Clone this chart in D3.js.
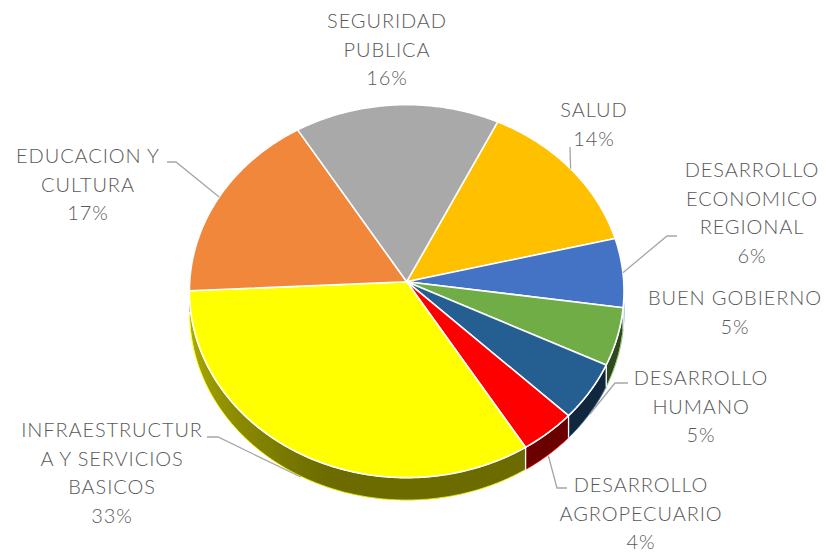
<!DOCTYPE html>
<html>
<head>
<meta charset="utf-8">
<script src="https://cdn.jsdelivr.net/npm/d3@7"></script>
<style>
  html, body { margin: 0; padding: 0; background: #fff; }
  svg { display: block; }
</style>
</head>
<body>
<div id="chart"></div>
<script>
// Data
const categories = ["SALUD", "DESARROLLO ECONOMICO REGIONAL", "BUEN GOBIERNO", "DESARROLLO HUMANO",
  "DESARROLLO AGROPECUARIO", "INFRAESTRUCTURA Y SERVICIOS BASICOS", "EDUCACION Y CULTURA", "SEGURIDAD PUBLICA"];
const values = [14, 6, 5, 5, 4, 33, 17, 16];
const labelLines = [
  ["SALUD", "14%"],
  ["DESARROLLO", "ECONOMICO", "REGIONAL", "6%"],
  ["BUEN GOBIERNO", "5%"],
  ["DESARROLLO", "HUMANO", "5%"],
  ["DESARROLLO", "AGROPECUARIO", "4%"],
  ["INFRAESTRUCTUR", "A Y SERVICIOS", "BASICOS", "33%"],
  ["EDUCACION Y", "CULTURA", "17%"],
  ["SEGURIDAD", "PUBLICA", "16%"]
];

// Styles / layout
const colors = ["#FFC000", "#4472C4", "#70AD47", "#255E91", "#FF0000", "#FFFF00", "#F0873A", "#A9A9A9"];
const labelPos = [[594, 117], [752, 177], [735, 305], [701, 385], [641, 492], [112, 437], [88, 163], [387, 28]];
const leaderStart = [
  [[570, 147]],
  [[677, 236], [667, 236]],
  null,
  [[628, 383], [615, 383]],
  [[567, 488], [557, 488]],
  [[207, 437], [218, 437]],
  [[167, 162], [176, 162]],
  null
];

const width = 826, height = 553;
const cx = 406.7, cy = 281.7, R = 217, RK = 186, D = 19.7, DEPTH = 22;
const lineH = 28.7;
const deg = Math.PI / 180;
const START = 26 * deg;

// perspective projection of a point on the tilted disc (angle clockwise from top)
function proj(a, r = 1) {
  const u = r * Math.sin(a), v = -r * Math.cos(a), w = D / (D - v);
  return [cx + R * u * w, cy + RK * v * w, w];
}
function arcPts(a0, a1) {
  const n = Math.max(2, Math.ceil((a1 - a0) / (0.5 * deg)));
  return d3.range(n + 1).map(i => proj(a0 + (a1 - a0) * i / n));
}
// wall brightness by angle
function shade(a) {
  const d = a / deg;
  return d >= 200 ? 0.42 + (d - 200) / 70 * 0.3 : 0.42;
}

const svg = d3.select("#chart").append("svg")
  .attr("width", width).attr("height", height)
  .attr("viewBox", `0 0 ${width} ${height}`);
const defs = svg.append("defs");

const pie = d3.pie().sort(null).value(d => d).startAngle(START).endAngle(START + 2 * Math.PI);
const arcs = pie(values);
const line = d3.line();

const xl = proj(270 * deg)[0], xr = proj(90 * deg)[0];

// walls (front half only)
const wallG = svg.append("g");
arcs.forEach((d, i) => {
  const a0 = Math.max(d.startAngle, 90 * deg), a1 = Math.min(d.endAngle, 270 * deg);
  if (a1 <= a0) return;
  const gid = "wall-" + i;
  const grad = defs.append("linearGradient").attr("id", gid)
    .attr("gradientUnits", "userSpaceOnUse")
    .attr("x1", xl).attr("x2", xr).attr("y1", 0).attr("y2", 0);
  d3.range(270, 89, -10).forEach(ad => {
    const x = proj(ad * deg)[0];
    grad.append("stop")
      .attr("offset", (x - xl) / (xr - xl))
      .attr("stop-color", d3.interpolateRgb("#000", colors[i])(shade(ad * deg)));
  });
  const top = arcPts(a0, a1);
  const bottom = top.map(p => [p[0], p[1] + DEPTH * p[2]]).reverse();
  wallG.append("path")
    .attr("d", line(top.concat(bottom).map(p => [p[0], p[1]])) + "Z")
    .attr("fill", `url(#${gid})`)
    .attr("stroke", "#fff").attr("stroke-width", 1.2).attr("stroke-linejoin", "round");
  wallG.append("path")
    .attr("d", line(bottom.map(p => [p[0], p[1] - 0.8])))
    .attr("fill", "none").attr("stroke", colors[i]).attr("stroke-width", 1).attr("opacity", 0.8);
});

// top surfaces
svg.append("g").selectAll("path").data(arcs).join("path")
  .attr("d", d => line([[cx, cy]].concat(arcPts(d.startAngle, d.endAngle).map(p => [p[0], p[1]]))) + "Z")
  .attr("fill", (d, i) => colors[i])
  .attr("stroke", "#fff").attr("stroke-width", 1.6).attr("stroke-linejoin", "round");

// leader lines
const leaderG = svg.append("g");
arcs.forEach((d, i) => {
  if (!leaderStart[i]) return;
  const m = (d.startAngle + d.endAngle) / 2;
  const p = proj(m);
  const end = [p[0], p[1] + (Math.cos(m) < -0.2 ? DEPTH * p[2] : 0)];
  leaderG.append("path")
    .attr("d", line(leaderStart[i].concat([end])))
    .attr("fill", "none").attr("stroke", "#A6A6A6").attr("stroke-width", 1.3);
});

// labels
const labelG = svg.append("g")
  .attr("font-family", "Lato, 'Noto Sans', sans-serif")
  .attr("font-weight", 300).attr("letter-spacing", "0.9px")
  .attr("font-size", 20).attr("fill", "#595959").attr("text-anchor", "middle");
labelLines.forEach((lines, i) => {
  const t = labelG.append("text").attr("x", labelPos[i][0]).attr("y", labelPos[i][1]);
  lines.forEach((s, j) => {
    t.append("tspan").attr("x", labelPos[i][0]).attr("y", labelPos[i][1] + j * lineH).text(s);
  });
});
</script>
</body>
</html>
